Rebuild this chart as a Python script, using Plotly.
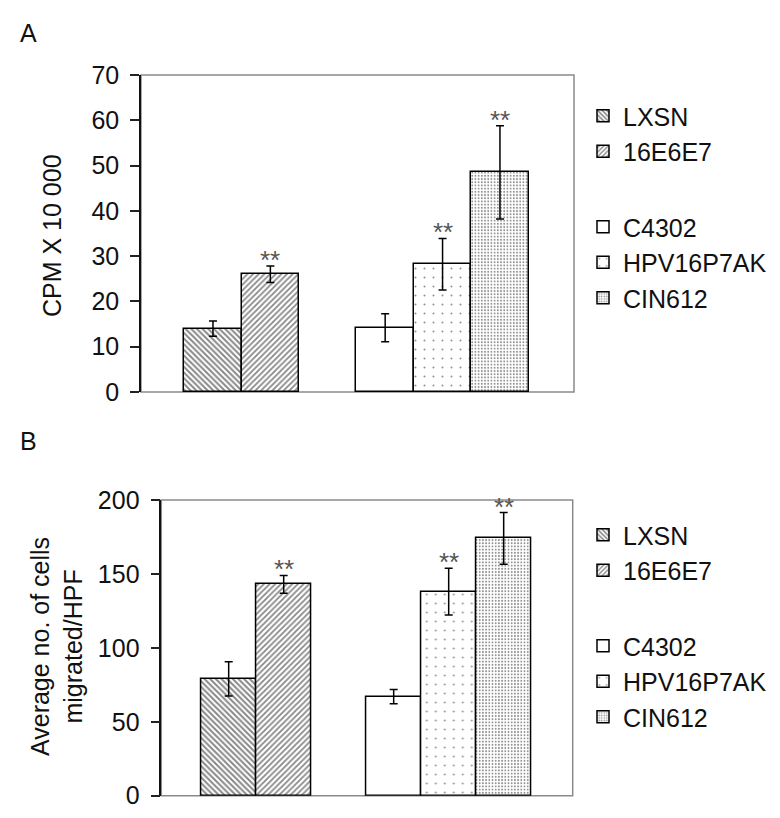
import plotly.graph_objects as go

# ---------------- data ----------------
series = ["LXSN", "16E6E7", "C4302", "HPV16P7AK", "CIN612"]
slot_order = ["LXSN", "16E6E7", " ", "C4302", "HPV16P7AK", "CIN612"]

a_values = [14.0, 26.0, 14.2, 28.2, 48.5]
a_errors = [1.7, 1.8, 3.1, 5.7, 10.3]
a_signif = ["", "**", "", "**", "**"]

b_values = [79, 143, 67, 138, 174]
b_errors = [11.6, 6.0, 4.8, 15.8, 17.5]
b_signif = ["", "**", "", "**", "**"]

a_ticks = [0, 10, 20, 30, 40, 50, 60, 70]
b_ticks = [0, 50, 100, 150, 200]

legend_group = ["g1", "g1", "g2", "g2", "g2"]

# ---------------- layout helpers ----------------
FONT = "Liberation Sans, Arial, sans-serif"
OFF = 8                      # page body margin
W, H = 780 - OFF, 818 - OFF  # figure size so that page fits the window


def px(x):
    return (x - OFF) / W


def py(y):
    return 1 - (y - OFF) / H


patterns = [
    dict(shape="\\", size=4, solidity=0.5, fgcolor="#111", bgcolor="white"),
    dict(shape="/", size=4, solidity=0.45, fgcolor="#111", bgcolor="white"),
    dict(shape="", fgcolor="#111", bgcolor="white"),
    dict(shape=".", size=9, solidity=0.04, fgcolor="#222", bgcolor="white"),
    dict(shape=".", size=3.2, solidity=0.28, fgcolor="#222", bgcolor="white"),
]

fig = go.Figure()


def add_panel(values, errors, xa, ya, legend_name):
    for i, name in enumerate(series):
        fig.add_trace(go.Bar(
            x=[name], y=[values[i]], name=name,
            xaxis=xa, yaxis=ya,
            legend=legend_name, legendgroup=legend_group[i] + legend_name,
            marker=dict(color="white", line=dict(color="black", width=1.5),
                        pattern=patterns[i]),
            error_y=dict(type="data", array=[errors[i]], color="black",
                         thickness=1.5, width=4),
        ))


add_panel(a_values, a_errors, "x", "y", "legend")
add_panel(b_values, b_errors, "x2", "y2", "legend2")

star_font = dict(family=FONT, size=26, color="#555")
annotations = []
for i, name in enumerate(series):
    if a_signif[i]:
        annotations.append(dict(x=name, y=a_values[i] + a_errors[i], xref="x", yref="y",
                                text=a_signif[i], showarrow=False, yanchor="middle",
                                yshift=6, font=star_font))
    if b_signif[i]:
        annotations.append(dict(x=name, y=b_values[i] + b_errors[i], xref="x2", yref="y2",
                                text=b_signif[i], showarrow=False, yanchor="middle",
                                yshift=6, font=star_font))

txt_font = dict(family=FONT, size=25, color="#111")
annotations += [
    dict(x=px(28), y=py(33.5), xref="paper", yref="paper", text="A", showarrow=False,
         xanchor="center", yanchor="middle", font=txt_font),
    dict(x=px(28.5), y=py(441), xref="paper", yref="paper", text="B", showarrow=False,
         xanchor="center", yanchor="middle", font=txt_font),
    dict(x=px(52), y=py(236), xref="paper", yref="paper", text="CPM X 10 000",
         textangle=-90, showarrow=False, xanchor="center", yanchor="middle", font=txt_font),
    dict(x=px(56), y=py(647), xref="paper", yref="paper",
         text="Average no. of cells<br>migrated/HPF",
         textangle=-90, showarrow=False, xanchor="center", yanchor="middle", font=txt_font),
]

xaxis_common = dict(type="category", categoryorder="array", categoryarray=slot_order,
                    showticklabels=False, ticks="", showgrid=False, zeroline=False,
                    showline=False, fixedrange=True, automargin=False)
yaxis_common = dict(showgrid=False, zeroline=False, showline=True, linecolor="#111",
                    linewidth=1.5, ticks="outside", ticklen=9, tickwidth=1.5,
                    tickcolor="#222", tickfont=dict(family=FONT, size=25, color="#111"),
                    ticklabelstandoff=6, automargin=False)

legend_common = dict(xanchor="left", yanchor="top", traceorder="grouped",
                     tracegroupgap=40, bgcolor="rgba(0,0,0,0)",
                     font=dict(family=FONT, size=25, color="#111"))

fig.update_layout(
    width=W, height=H,
    margin=dict(l=0, r=0, t=0, b=0, pad=0, autoexpand=False),
    paper_bgcolor="white", plot_bgcolor="white",
    barmode="overlay", bargap=0,
    xaxis=dict(domain=[px(141), px(574)], range=[-1.254, 6.29], anchor="y", **xaxis_common),
    yaxis=dict(domain=[py(392), py(75)], range=[0, 70], tickvals=a_ticks,
               anchor="x", **yaxis_common),
    xaxis2=dict(domain=[px(161.3), px(572.7)], range=[-1.225, 6.255], anchor="y2",
                **xaxis_common),
    yaxis2=dict(domain=[py(795.7), py(500)], range=[0, 200], tickvals=b_ticks,
                anchor="x2", **yaxis_common),
    legend=dict(x=px(583), y=py(93), **legend_common),
    legend2=dict(x=px(583), y=py(512), **legend_common),
    annotations=annotations,
    shapes=[
        dict(type="rect", xref="x domain", yref="y domain", x0=0, x1=1, y0=0, y1=1,
             line=dict(color="#8a8a8a", width=1.5), layer="below"),
        dict(type="rect", xref="x2 domain", yref="y2 domain", x0=0, x1=1, y0=0, y1=1,
             line=dict(color="#8a8a8a", width=1.5), layer="below"),
    ],
)

fig.write_html("out.html")
